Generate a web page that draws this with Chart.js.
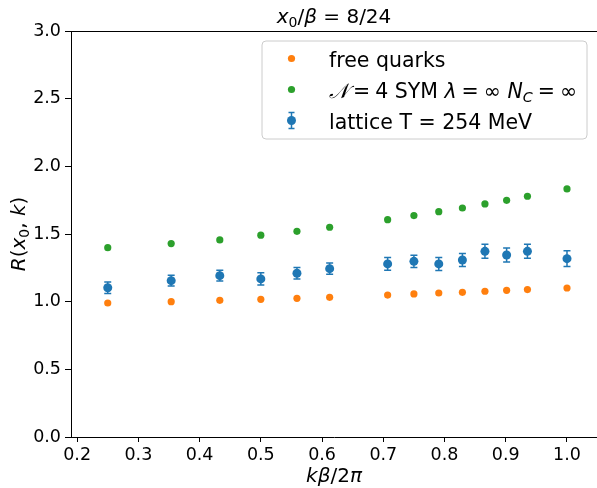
<!DOCTYPE html>
<html>
<head>
<meta charset="utf-8">
<script src="https://cdn.jsdelivr.net/npm/chart.js@4.4.0/dist/chart.umd.min.js"></script>
<style>
  html, body { margin: 0; padding: 0; background: #fff; overflow: hidden; }
  #wrap { width: 597px; height: 488px; }
  canvas { display: block; }
</style>
</head>
<body>
<div id="wrap"><canvas id="c"></canvas></div>
<script>
const kValues = [0.25, 0.3536, 0.4330, 0.5, 0.5590, 0.6124, 0.7071, 0.75, 0.7906, 0.8292, 0.8660, 0.9014, 0.9354, 1.0];
const freeQuarks = [0.990, 1.000, 1.010, 1.017, 1.025, 1.032, 1.049, 1.057, 1.064, 1.069, 1.077, 1.084, 1.089, 1.101];
const symInfinite = [1.399, 1.429, 1.456, 1.491, 1.520, 1.550, 1.606, 1.636, 1.665, 1.692, 1.722, 1.749, 1.779, 1.833];
const lattice = [1.103, 1.155, 1.192, 1.168, 1.210, 1.244, 1.279, 1.298, 1.279, 1.308, 1.372, 1.345, 1.372, 1.318];
const latticeErr = [0.042, 0.040, 0.040, 0.045, 0.042, 0.042, 0.047, 0.045, 0.048, 0.048, 0.052, 0.052, 0.052, 0.058];
const xTicks = [0.2, 0.3, 0.4, 0.5, 0.6, 0.7, 0.8, 0.9, 1.0];
const yTicks = [0.0, 0.5, 1.0, 1.5, 2.0, 2.5, 3.0];

const FONT = '"DejaVu Sans", sans-serif';
const ORANGE = '#ff7f0e', GREEN = '#2ca02c', BLUE = '#1f77b4';

// text with italic / subscript pieces (mathtext-like); {gap: n} adds n px of space
function drawRich(ctx, segs, x, y, align, size) {
  let w = 0;
  const parts = segs.map(s => {
    if (s.gap) { w += s.gap; return { s, pw: s.gap }; }
    const fs = s.sub ? size * 0.7 : size;
    const font = (s.it ? 'italic ' : '') + fs + 'px ' + FONT;
    ctx.font = font;
    const pw = ctx.measureText(s.t).width;
    w += pw;
    return { s, font, pw };
  });
  let cx = align === 'center' ? x - w / 2 : x;
  ctx.textAlign = 'left';
  ctx.textBaseline = 'alphabetic';
  parts.forEach(p => {
    if (!p.s.gap) {
      ctx.font = p.font;
      ctx.fillText(p.s.t, cx, y + (p.s.sub ? size * 0.22 : 0));
    }
    cx += p.pw;
  });
}

const titleSegs = [{t: 'x', it: true}, {t: '0', sub: true}, {t: '/'}, {t: 'β', it: true}, {t: ' = 8/24'}];
const xLabelSegs = [{t: 'kβ', it: true}, {t: '/2'}, {t: 'π', it: true}];
const yLabelSegs = [{t: 'R', it: true}, {t: '('}, {t: 'x', it: true}, {t: '0', sub: true}, {t: ', '}, {t: 'k', it: true}, {t: ')'}];
const legendRows = [
  { color: ORANGE, err: false, segs: [{t: 'free quarks'}] },
  { color: GREEN, err: false, segs: [
    {t: '𝒩', it: true}, {gap: 4}, {t: '='}, {gap: 5}, {t: '4 SYM '}, {t: 'λ', it: true}, {gap: 5}, {t: '='}, {gap: 5},
    {t: '∞ '}, {t: 'N', it: true}, {t: 'C', it: true, sub: true}, {gap: 5}, {t: '='}, {gap: 5}, {t: '∞'}] },
  { color: BLUE, err: true, segs: [{t: 'lattice T = 254 MeV'}] }
];

const errorBars = {
  id: 'errorBars',
  afterDatasetsDraw(chart) {
    const { ctx, scales: { x, y } } = chart;
    ctx.save();
    ctx.strokeStyle = BLUE;
    ctx.lineWidth = 1.5;
    kValues.forEach((k, i) => {
      const px = x.getPixelForValue(k);
      const lo = y.getPixelForValue(lattice[i] - latticeErr[i]);
      const hi = y.getPixelForValue(lattice[i] + latticeErr[i]);
      ctx.beginPath();
      ctx.moveTo(px, lo); ctx.lineTo(px, hi);
      ctx.moveTo(px - 3.5, lo); ctx.lineTo(px + 3.5, lo);
      ctx.moveTo(px - 3.5, hi); ctx.lineTo(px + 3.5, hi);
      ctx.stroke();
    });
    ctx.restore();
  }
};

const decorations = {
  id: 'decorations',
  afterDraw(chart) {
    const { ctx, chartArea: a } = chart;
    ctx.save();
    // top spine
    ctx.strokeStyle = '#000';
    ctx.lineWidth = 1;
    ctx.beginPath();
    ctx.moveTo(a.left, a.top + 0.5); ctx.lineTo(a.right, a.top + 0.5);
    ctx.stroke();

    ctx.fillStyle = '#000';
    drawRich(ctx, titleSegs, (a.left + a.right) / 2, 23, 'center', 20);
    drawRich(ctx, xLabelSegs, (a.left + a.right) / 2, 482, 'center', 20);

    ctx.save();
    ctx.translate(25, (a.top + a.bottom) / 2);
    ctx.rotate(-Math.PI / 2);
    drawRich(ctx, yLabelSegs, 0, 0, 'center', 20);
    ctx.restore();

    // legend
    const lx = 262, ly = 41, lw = 325, lh = 98, r = 4;
    ctx.beginPath();
    ctx.moveTo(lx + r, ly);
    ctx.arcTo(lx + lw, ly, lx + lw, ly + lh, r);
    ctx.arcTo(lx + lw, ly + lh, lx, ly + lh, r);
    ctx.arcTo(lx, ly + lh, lx, ly, r);
    ctx.arcTo(lx, ly, lx + lw, ly, r);
    ctx.closePath();
    ctx.fillStyle = 'rgba(255,255,255,0.8)';
    ctx.fill();
    ctx.strokeStyle = '#cccccc';
    ctx.stroke();

    legendRows.forEach((row, i) => {
      const cy = 58.5 + i * 31;
      ctx.fillStyle = row.color;
      ctx.strokeStyle = row.color;
      if (row.err) {
        ctx.lineWidth = 1.5;
        ctx.beginPath();
        ctx.moveTo(291.5, cy - 8); ctx.lineTo(291.5, cy + 8);
        ctx.moveTo(288.5, cy - 8); ctx.lineTo(294.5, cy - 8);
        ctx.moveTo(288.5, cy + 8); ctx.lineTo(294.5, cy + 8);
        ctx.stroke();
      }
      ctx.beginPath();
      ctx.arc(291.5, cy, row.err ? 4.5 : 3.6, 0, Math.PI * 2);
      ctx.fill();
      ctx.fillStyle = '#000';
      drawRich(ctx, row.segs, 329, cy + 8, 'left', 20.5);
    });
    ctx.restore();
  }
};

const pts = vals => kValues.map((k, i) => ({ x: k, y: vals[i] }));

new Chart(document.getElementById('c'), {
  type: 'scatter',
  data: {
    datasets: [
      { label: 'free quarks', data: pts(freeQuarks), backgroundColor: ORANGE, pointRadius: 3.6, pointBorderWidth: 0 },
      { label: 'N=4 SYM', data: pts(symInfinite), backgroundColor: GREEN, pointRadius: 3.6, pointBorderWidth: 0 },
      { label: 'lattice T = 254 MeV', data: pts(lattice), backgroundColor: BLUE, pointRadius: 4.5, pointBorderWidth: 0 }
    ]
  },
  options: {
    responsive: true,
    maintainAspectRatio: false,
    devicePixelRatio: 1,
    animation: false,
    layout: { autoPadding: false, padding: { top: 31, right: 0, left: 0, bottom: 0 } },
    plugins: { legend: { display: false }, tooltip: { enabled: false } },
    scales: {
      x: {
        type: 'linear',
        min: 0.190,
        max: 1.049,
        afterBuildTicks: s => { s.ticks = xTicks.map(v => ({ value: v })); },
        afterFit: s => { s.height = 51; s.paddingLeft = 0; s.paddingRight = 0; },
        ticks: { callback: v => v.toFixed(1), color: '#000', font: { family: FONT, size: 17.5 }, maxRotation: 0, autoSkip: false, padding: 3 },
        grid: { drawOnChartArea: false, tickLength: 5, tickColor: '#000' },
        border: { color: '#000' }
      },
      y: {
        min: 0,
        max: 3,
        afterBuildTicks: s => { s.ticks = yTicks.map(v => ({ value: v })); },
        afterFit: s => { s.width = 71; s.paddingTop = 0; s.paddingBottom = 0; },
        ticks: { callback: v => v.toFixed(1), color: '#000', font: { family: FONT, size: 17.5 }, padding: 4 },
        grid: { drawOnChartArea: false, tickLength: 6, tickColor: '#000' },
        border: { color: '#000' }
      }
    }
  },
  plugins: [errorBars, decorations]
});
</script>
</body>
</html>
